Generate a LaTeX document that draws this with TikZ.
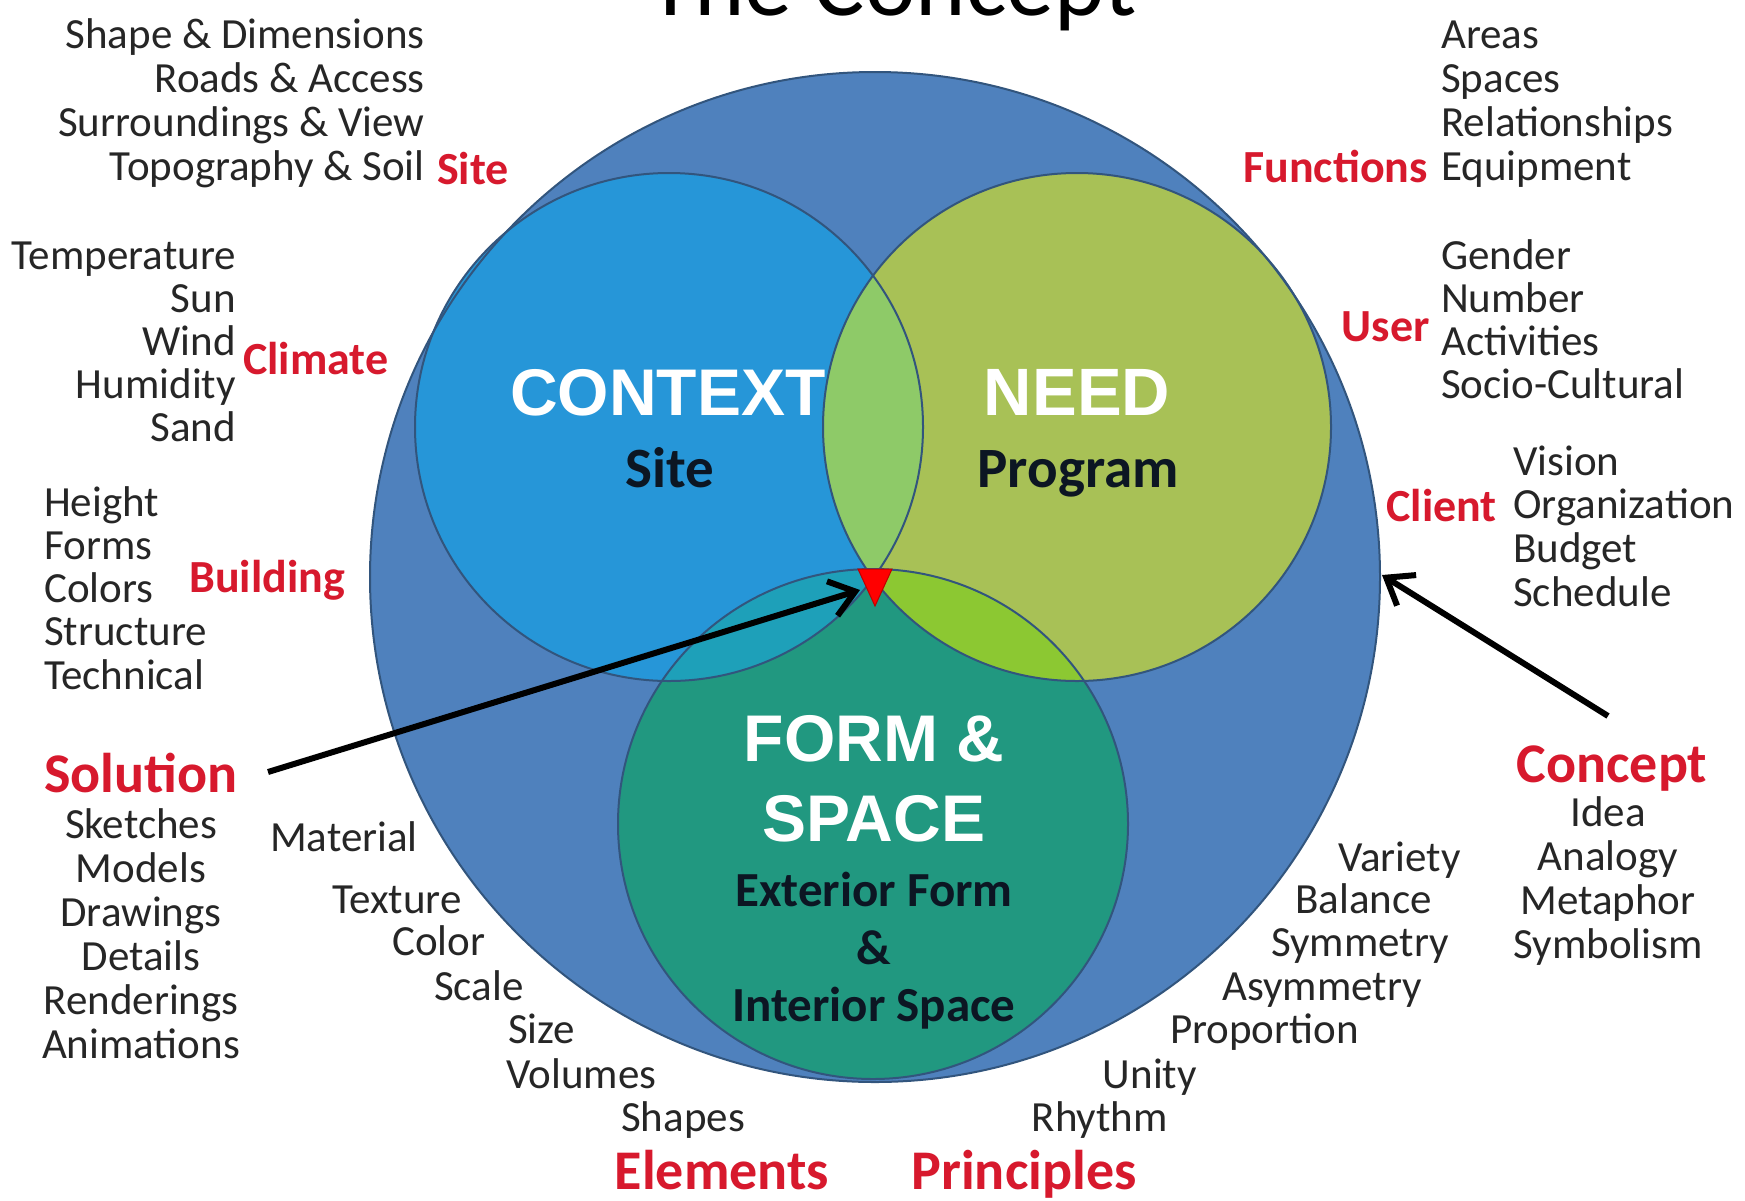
\documentclass[tikz,border=0pt]{standalone}
\usepackage{fontspec}
\setmainfont{Carlito}
\newfontfamily\arialf{Liberation Sans}
\usetikzlibrary{arrows.meta}
\definecolor{outerblue}{RGB}{79,129,189}
\definecolor{ctxblue}{RGB}{38,150,216}
\definecolor{needgreen}{RGB}{168,193,86}
\definecolor{formteal}{RGB}{33,152,128}
\definecolor{lensCN}{RGB}{142,202,104}
\definecolor{lensCF}{RGB}{30,160,185}
\definecolor{lensNF}{RGB}{140,200,50}
\definecolor{edge}{RGB}{50,85,125}
\definecolor{lblred}{RGB}{215,25,45}
\definecolor{txtgray}{RGB}{38,38,38}
\definecolor{subdark}{RGB}{12,22,35}
\tikzset{
 txt/.style={font=\fontsize{43}{44}\selectfont, text=txtgray, inner sep=0pt},
 lbl/.style={font=\fontsize{46}{48}\selectfont\bfseries, text=lblred, inner sep=0pt},
 biglbl/.style={font=\fontsize{56}{58}\selectfont\bfseries, text=lblred, inner sep=0pt},
 head/.style={font=\arialf\bfseries\fontsize{66}{70}\selectfont, text=white, inner sep=0pt},
 sub/.style={font=\fontsize{57}{60}\selectfont\bfseries, text=subdark, inner sep=0pt},
 subsm/.style={font=\fontsize{49}{52}\selectfont\bfseries, text=subdark, inner sep=0pt},
 ring/.style={draw=edge, line width=2pt},
 arr/.style={line width=6pt, -{Straight Barb[length=24pt,width=36pt,line width=6pt]}},
}
\begin{document}
\begin{tikzpicture}[x=1pt,y=-1pt]
\useasboundingbox (0,0) rectangle (1745,1200);
\fill[white] (0,0) rectangle (1745,1200);
\clip (0,0) rectangle (1745,1200);

% title (cut off at the top)
\node[font=\fontsize{96}{96}\selectfont, text=black, anchor=base, inner sep=0pt] (title) at (892,15) {The Concept};

% circles
\coordinate (oc) at (875,577);
\coordinate (cc) at (669,427);
\coordinate (nc) at (1077,427);
\coordinate (fc) at (873,824);
\fill[outerblue] (oc) circle[radius=505];
\fill[ctxblue] (cc) circle[radius=254];
\fill[needgreen] (nc) circle[radius=254];
\fill[formteal] (fc) circle[radius=255];
\begin{scope}
 \clip (cc) circle[radius=254];
 \fill[lensCN] (nc) circle[radius=254];
 \fill[lensCF] (fc) circle[radius=255];
\end{scope}
\begin{scope}
 \clip (nc) circle[radius=254];
 \fill[lensNF] (fc) circle[radius=255];
\end{scope}
\draw[ring] (oc) circle[radius=505];
\draw[ring] (cc) circle[radius=254];
\draw[ring] (nc) circle[radius=254];
\draw[ring] (fc) circle[radius=255];

% red triangle
\coordinate (t1) at (858,569);
\coordinate (t2) at (892,569);
\coordinate (t3) at (875,606);
\filldraw[fill=red, draw=red!75!black, line width=1pt] (t1) -- (t2) -- (t3) -- cycle;
\coordinate (meet) at (860,590);

% centre texts
\node[head, anchor=base] (context) at (668,415) {CONTEXT};
\node[head, font=\arialf\bfseries\fontsize{67}{70}\selectfont, anchor=base] (need) at (1077,415) {NEED};
\node[sub, anchor=base] (sitesub) at (670,487) {Site};
\node[sub, anchor=base] (program) at (1078,487) {Program};
\node[head, anchor=base] (form) at (874,761) {FORM \&};
\node[head, anchor=base] (space) at (874,841) {SPACE};
\node[subsm, anchor=base] (ext) at (874,906) {Exterior Form};
\node[subsm, anchor=base] (amp) at (874,964) {\&};
\node[subsm, anchor=base] (int) at (874,1021) {Interior Space};

% Site
\foreach \t [count=\i from 0] in {Shape \& Dimensions, Roads \& Access, Surroundings \& View, Topography \& Soil}
  \node[txt, anchor=base east] (site\i) at (425,{48+44*\i}) {\t};
\node[lbl, anchor=base west] (sitelbl) at (437,184) {Site};

% Climate
\foreach \t [count=\i from 0] in {Temperature, Sun, Wind, Humidity, Sand}
  \node[txt, anchor=base east] (clim\i) at (236,{269+43.2*\i}) {\t};
\node[lbl, anchor=base west] (climlbl) at (243,374) {Climate};

% Building
\foreach \t [count=\i from 0] in {Height, Forms, Colors, Structure, Technical}
  \node[txt, anchor=base west] (bld\i) at (44,{516+43.3*\i}) {\t};
\node[lbl, anchor=base west] (bldlbl) at (189,592) {Building};

% Solution
\node[biglbl, anchor=base] (sol) at (141,792) {Solution};
\foreach \t [count=\i from 0] in {Sketches, Models, Drawings, Details, Renderings, Animations}
  \node[txt, anchor=base] (sol\i) at (141,{838+44*\i}) {\t};

% Elements
\node[txt, anchor=base west] (el1) at (270,851) {Material};
\node[txt, anchor=base west] (el2) at (332,913) {Texture};
\node[txt, anchor=base west] (el3) at (392,955) {Color};
\node[txt, anchor=base west] (el4) at (434,1000) {Scale};
\node[txt, anchor=base west] (el5) at (508,1043) {Size};
\node[txt, anchor=base west] (el6) at (506,1088) {Volumes};
\node[txt, anchor=base west] (el7) at (621,1131) {Shapes};
\node[biglbl, anchor=base] (elem) at (722,1189) {Elements};

% Principles
\node[txt, anchor=base east] (pr1) at (1461,871) {Variety};
\node[txt, anchor=base east] (pr2) at (1432,913) {Balance};
\node[txt, anchor=base east] (pr3) at (1449,956) {Symmetry};
\node[txt, anchor=base east] (pr4) at (1422,1000) {Asymmetry};
\node[txt, anchor=base east] (pr5) at (1359,1043) {Proportion};
\node[txt, anchor=base east] (pr6) at (1197,1088) {Unity};
\node[txt, anchor=base east] (pr7) at (1168,1131) {Rhythm};
\node[biglbl, anchor=base] (princ) at (1024,1189) {Principles};

% Concept
\node[biglbl, anchor=base] (concept) at (1612,782) {Concept};
\foreach \t [count=\i from 0] in {Idea, Analogy, Metaphor, Symbolism}
  \node[txt, anchor=base] (con\i) at (1608,{826+44*\i}) {\t};

% Functions
\foreach \t [count=\i from 0] in {Areas, Spaces, Relationships, Equipment}
  \node[txt, anchor=base west] (fun\i) at (1441,{48+44*\i}) {\t};
\node[lbl, anchor=base east] (funlbl) at (1428,182) {Functions};

% User
\foreach \t [count=\i from 0] in {Gender, Number, Activities, Socio-Cultural}
  \node[txt, anchor=base west] (usr\i) at (1441,{269+43.3*\i}) {\t};
\node[lbl, anchor=base east] (usrlbl) at (1430,341) {User};

% Client
\foreach \t [count=\i from 0] in {Vision, Organization, Budget, Schedule}
  \node[txt, anchor=base west] (cli\i) at (1513,{475+43.7*\i}) {\t};
\node[lbl, anchor=base east] (clilbl) at (1497,521) {Client};

% arrows
\coordinate (solA) at (268,772);
\coordinate (conA) at (1608,716);
\coordinate (conB) at (1382,575);
\draw[arr] (solA) -- (meet);
\draw[arr] (conA) -- (conB);
\end{tikzpicture}
\end{document}
